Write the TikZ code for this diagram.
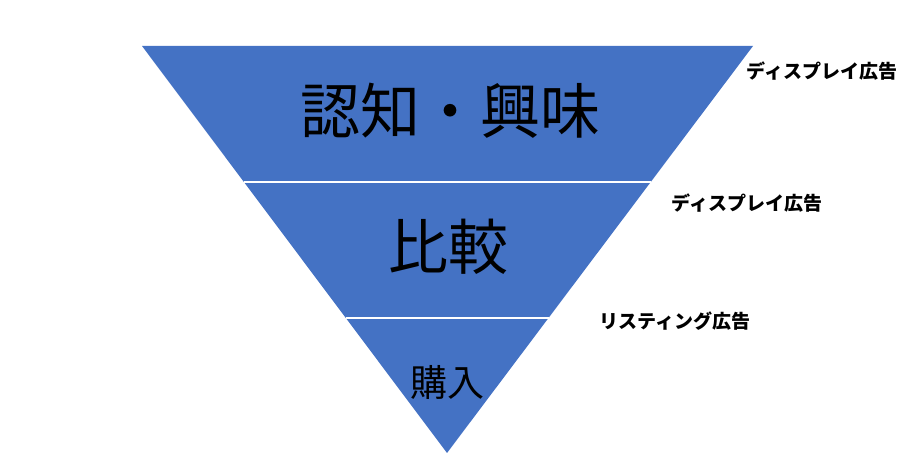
\documentclass[tikz,border=0pt]{standalone}
\usepackage{fontspec}
\newfontfamily\cjk{Noto Sans CJK JP}
\usetikzlibrary{calc}
\definecolor{funnelblue}{HTML}{4472C4}
\tikzset{
  stage/.style={font=\cjk, text=black, inner sep=0pt},
  adlabel/.style={font=\cjk\bfseries\fontsize{19}{22}\selectfont, text=black, inner sep=0pt},
  divider/.style={draw=white, line width=1.4pt}
}
\begin{document}
\begin{tikzpicture}[x=1pt,y=1pt]
\useasboundingbox (0,0) rectangle (902,463);
\coordinate (tl) at (142,417);
\coordinate (tr) at (753,417);
\coordinate (ap) at (447,10);
\fill[funnelblue] (tl) -- (tr) -- (ap) -- cycle;
\coordinate (l1) at ($(tl)!136/407!(ap)$);
\coordinate (r1) at ($(tr)!136/407!(ap)$);
\coordinate (l2) at ($(tl)!272/407!(ap)$);
\coordinate (r2) at ($(tr)!272/407!(ap)$);
\draw[divider] (l1) -- (r1);
\draw[divider] (l2) -- (r2);
\node[stage, font=\cjk\fontsize{60}{66}\selectfont] (s1) at (450,352) {認知・興味};
\node[stage, font=\cjk\fontsize{60}{66}\selectfont] (s2) at (448,216) {比較};
\node[stage, font=\cjk\fontsize{37}{42}\selectfont] (s3) at (447,81) {購入};
\node[adlabel] (a1) at (822,392) {ディスプレイ広告};
\node[adlabel] (a2) at (747,260) {ディスプレイ広告};
\node[adlabel] (a3) at (675,142) {リスティング広告};
\end{tikzpicture}
\end{document}
